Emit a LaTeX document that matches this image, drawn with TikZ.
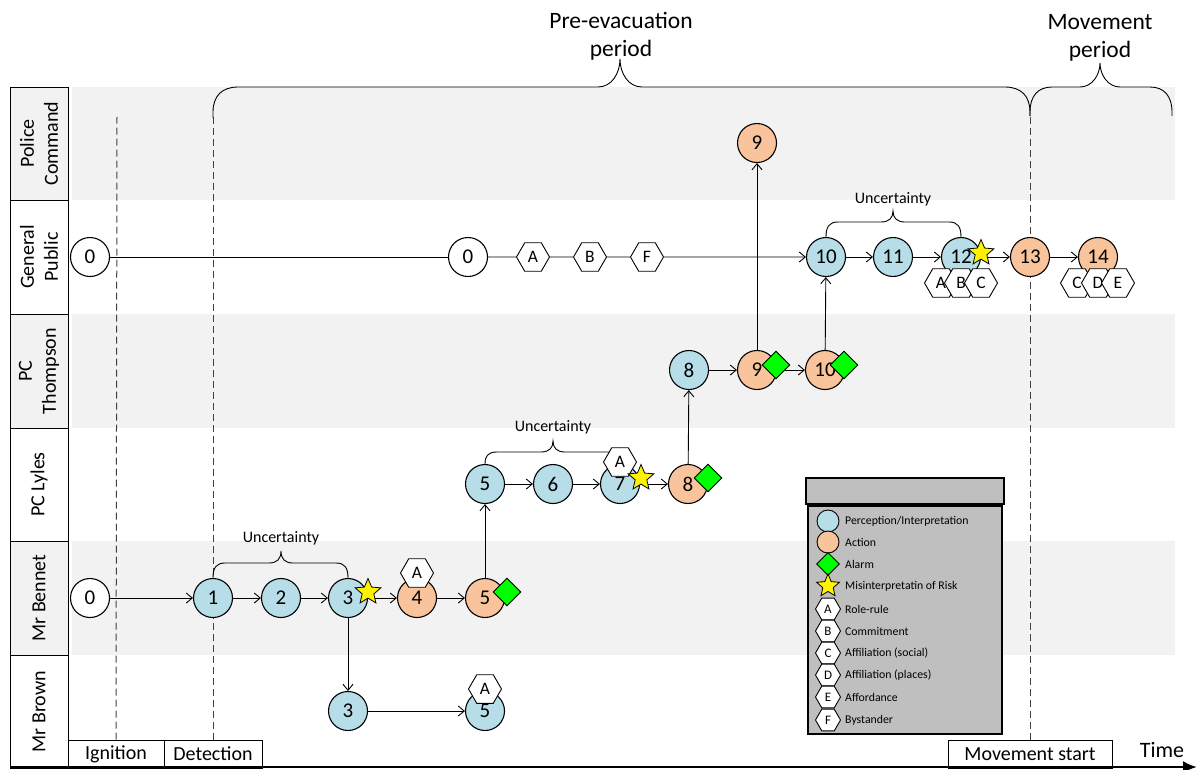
\documentclass[tikz,border=0pt]{standalone}
\usepackage{fontspec}
\setmainfont{Carlito}
\usetikzlibrary{shapes.geometric,arrows.meta}
\definecolor{band}{HTML}{F2F2F2}
\definecolor{perc}{HTML}{B7DEE8}
\definecolor{act}{HTML}{F9C49B}
\definecolor{alarmg}{HTML}{00FF00}
\definecolor{legbg}{HTML}{BFBFBF}
\newcommand{\fsz}[1]{\fontsize{#1}{#1}\selectfont}
\begin{document}
\begin{tikzpicture}[x=1pt,y=-1pt,
  nd/.style={circle, draw, line width=1.1pt, minimum size=39pt, inner sep=0pt, font=\fsz{21}},
  pn/.style={nd, fill=perc},
  an/.style={nd, fill=act},
  wn/.style={nd, fill=white},
  hexn/.style={regular polygon, regular polygon sides=6, draw, fill=white, line width=0.9pt, minimum size=33pt, inner sep=0pt, font=\fsz{17.5}},
  alarmd/.style={diamond, draw, fill=alarmg, line width=0.9pt, minimum size=28pt, inner sep=0pt},
  starn/.style={star, star points=5, star point ratio=2.2, draw, fill=yellow, line width=0.8pt, minimum size=27pt, inner sep=0pt},
  conn/.style={line width=0.9pt},
  arr/.style={conn, -{Straight Barb[length=6pt,width=10pt]}},
  dashline/.style={dash pattern=on 7pt off 4pt, line width=1pt, black!75},
  lanelab/.style={rotate=90, align=center, font=\fontsize{20}{24}\selectfont},
  bracepath/.style={line width=0.9pt},
  botlab/.style={draw, line width=1pt, minimum height=28pt, inner sep=0pt, font=\fsz{20}, fill=white},
  legtext/.style={anchor=west, font=\fsz{11.8}, inner sep=0pt},
  unc/.style={font=\fsz{16}},
  perlab/.style={align=center, font=\fontsize{23.5}{28}\selectfont},
]
\useasboundingbox (0,0) rectangle (1197,769);
% bands
\fill[band] (72,87) rectangle (1175,200);
\fill[band] (72,314) rectangle (1175,428);
\fill[band] (72,541) rectangle (1175,655);
% lane label column
\draw[line width=1pt, fill=band]  (10,87) rectangle (68,200);
\draw[line width=1pt, fill=white] (10,200) rectangle (68,314);
\draw[line width=1pt, fill=band]  (10,314) rectangle (68,428);
\draw[line width=1pt, fill=white] (10,428) rectangle (68,541);
\draw[line width=1pt, fill=band]  (10,541) rectangle (68,655);
\draw[line width=1pt, fill=white] (10,655) rectangle (68,768);
\node[lanelab] (lab1) at (39,143.5) {Police\\Command};
\node[lanelab] (lab2) at (39,257) {General\\Public};
\node[lanelab] (lab3) at (39,371) {PC\\Thompson};
\node[lanelab] (lab4) at (39,484.5) {PC Lyles};
\node[lanelab] (lab5) at (39,598) {Mr Bennet};
\node[lanelab] (lab6) at (39,711.5) {Mr Brown};
% bottom labels
\node[botlab, minimum width=96pt] (ign) at (116,754) {Ignition};
\node[botlab, minimum width=98pt] (det) at (213,754) {Detection};
\node[botlab, minimum width=164pt] (mov) at (1030,754) {Movement start};
\node[font=\fsz{22}, inner sep=0pt] (time) at (1162,750) {Time};
% dashed markers
\draw[dashline] (ign.north) -- (117,117);
\draw[dashline] (det.north) -- (213,117);
\draw[dashline] (mov.north) -- (1030,115);
% period braces
\draw[bracepath] (213,118) -- (213,112) .. controls (213,96) and (222,87) .. (238,87) -- (598,87)
  .. controls (612,87) and (620,73) .. (620,59) .. controls (620,73) and (628,87) .. (642,87)
  -- (1005,87) .. controls (1021,87) and (1030,96) .. (1030,112) -- (1030,116);
\draw[bracepath] (1030,116) -- (1030,112) .. controls (1030,96) and (1038,87) .. (1052,87) -- (1080,87)
  .. controls (1092,87) and (1100,75) .. (1100,63) .. controls (1100,75) and (1108,87) .. (1120,87)
  -- (1150,87) .. controls (1164,87) and (1172,96) .. (1172,112) -- (1172,116);
\node[perlab] (pre) at (621,36) {Pre-evacuation\\period};
\node[perlab] (movp) at (1100,38) {Movement\\period};
% nodes
\node[wn] (gp0) at (90,257) {0};
\node[wn] (gp0b) at (468,257) {0};
\node[hexn] (gpA) at (533,257) {A};
\node[hexn] (gpB) at (590,257) {B};
\node[hexn] (gpF) at (647,257) {F};
\node[pn] (gp10) at (826,257) {10};
\node[pn] (gp11) at (893,257) {11};
\node[pn] (gp12) at (961,257) {12};
\node[an] (gp13) at (1030,257) {13};
\node[an] (gp14) at (1098,257) {14};
\node[an] (pc9) at (757,143) {9};
\node[pn] (t8) at (689,370) {8};
\node[an] (t9) at (757,370) {9};
\node[an] (t10) at (825,370) {10};
\node[pn] (l5) at (485,484) {5};
\node[pn] (l6) at (553,484) {6};
\node[pn] (l7) at (620,484) {7};
\node[an] (l8) at (688,484) {8};
\node[wn] (b0) at (90,598) {0};
\node[pn] (b1) at (213,598) {1};
\node[pn] (b2) at (281,598) {2};
\node[pn] (b3) at (348,598) {3};
\node[an] (b4) at (417,598) {4};
\node[an] (b5) at (485,598) {5};
\node[pn] (w3) at (348,711) {3};
\node[pn] (w5) at (485,711) {5};
% connectors
\draw[conn] (gp0) -- (gp0b);
\draw[conn] (gp0b) -- (gpA);
\draw[conn] (gpA) -- (gpB);
\draw[conn] (gpB) -- (gpF);
\draw[arr] (gpF) -- (gp10);
\draw[arr] (gp10) -- (gp11);
\draw[arr] (gp11) -- (gp12);
\draw[arr] (gp12) -- (gp13);
\draw[arr] (gp13) -- (gp14);
\draw[arr] (t9) -- (pc9);
\draw[arr] (t10) -- (gp10);
\draw[arr] (t8) -- (t9);
\draw[arr] (t9) -- (t10);
\draw[arr] (l8) -- (t8);
\draw[arr] (l5) -- (l6);
\draw[arr] (l6) -- (l7);
\draw[arr] (l7) -- (l8);
\draw[arr] (b5) -- (l5);
\draw[arr] (b0) -- (b1);
\draw[arr] (b1) -- (b2);
\draw[arr] (b2) -- (b3);
\draw[arr] (b3) -- (b4);
\draw[arr] (b4) -- (b5);
\draw[arr] (b3) -- (w3);
\draw[arr] (w3) -- (w5);
% uncertainty braces
\draw[bracepath] (b1.north) .. controls (213,568) and (216,563) .. (225,563) -- (269,563)
  .. controls (277,563) and (281,559) .. (281,551) .. controls (281,559) and (285,563) .. (293,563)
  -- (336,563) .. controls (345,563) and (348,568) .. (b3.north);
\node[unc] (u1) at (281,538) {Uncertainty};
\draw[bracepath] (l5.north) .. controls (485,456) and (488,452) .. (497,452) -- (541,452)
  .. controls (549,452) and (553,448) .. (553,441) .. controls (553,448) and (557,452) .. (565,452)
  -- (608,452) .. controls (617,452) and (620,456) .. (l7.north);
\node[unc] (u2) at (553,427) {Uncertainty};
\draw[bracepath] (gp10.north) .. controls (826,227) and (829,222) .. (838,222) -- (881,222)
  .. controls (889,222) and (893,218) .. (893,211) .. controls (893,218) and (897,222) .. (905,222)
  -- (949,222) .. controls (958,222) and (961,227) .. (gp12.north);
\node[unc] (u3) at (893,199) {Uncertainty};
% markers
\node[hexn] (h12a) at (941,283) {A};
\node[hexn] (h12b) at (961,283) {B};
\node[hexn] (h12c) at (981,283) {C};
\node[starn] (s12) at (981,253) {};
\node[hexn] (h14c) at (1077,283) {C};
\node[hexn] (h14d) at (1098,283) {D};
\node[hexn] (h14e) at (1118,283) {E};
\node[alarmd] (d9) at (776,365) {};
\node[alarmd] (d10) at (844,365) {};
\node[hexn] (h7) at (620,462) {A};
\node[starn] (s7) at (641,478) {};
\node[alarmd] (d8) at (708,478) {};
\node[starn] (s3) at (368,592) {};
\node[hexn] (h4) at (417,573) {A};
\node[alarmd] (d5) at (507,592) {};
\node[hexn] (hw5) at (485,689) {A};
% legend
\draw[line width=1.1pt, fill=legbg] (806,478) rectangle (1004,504);
\draw[line width=1.1pt, fill=legbg] (808,506) rectangle (1002,734);
\node[circle, draw, line width=0.9pt, fill=perc, minimum size=22pt, inner sep=0pt] (lg1) at (828,521) {};
\node[circle, draw, line width=0.9pt, fill=act, minimum size=22pt, inner sep=0pt] (lg2) at (828,542) {};
\node[alarmd, minimum size=23pt] (lg3) at (828,564) {};
\node[starn, minimum size=24pt] (lg4) at (828,586) {};
\node[hexn, minimum size=25pt, font=\fsz{13}] (lg5) at (828,609) {A};
\node[hexn, minimum size=25pt, font=\fsz{13}] (lg6) at (828,631) {B};
\node[hexn, minimum size=25pt, font=\fsz{13}] (lg7) at (828,653) {C};
\node[hexn, minimum size=25pt, font=\fsz{13}] (lg8) at (828,675) {D};
\node[hexn, minimum size=25pt, font=\fsz{13}] (lg9) at (828,697) {E};
\node[hexn, minimum size=25pt, font=\fsz{13}] (lg10) at (828,720) {F};
\node[legtext] (t1) at (845,521) {Perception/Interpretation};
\node[legtext] (t2) at (845,542) {Action};
\node[legtext] (t3) at (845,564) {Alarm};
\node[legtext] (t4) at (845,586) {Misinterpretatin of Risk};
\node[legtext] (t5) at (845,609) {Role-rule};
\node[legtext] (t6) at (845,631) {Commitment};
\node[legtext] (t7) at (845,653) {Affiliation (social)};
\node[legtext] (t8) at (845,675) {Affiliation (places)};
\node[legtext] (t9) at (845,697) {Affordance};
\node[legtext] (t10) at (845,720) {Bystander};
% time axis
\coordinate (tstart) at (10,767);
\coordinate (tend) at (1197,767);
\draw[line width=2.5pt, -{Latex[length=14pt,width=12pt]}] (tstart) -- (tend);
\end{tikzpicture}
\end{document}
